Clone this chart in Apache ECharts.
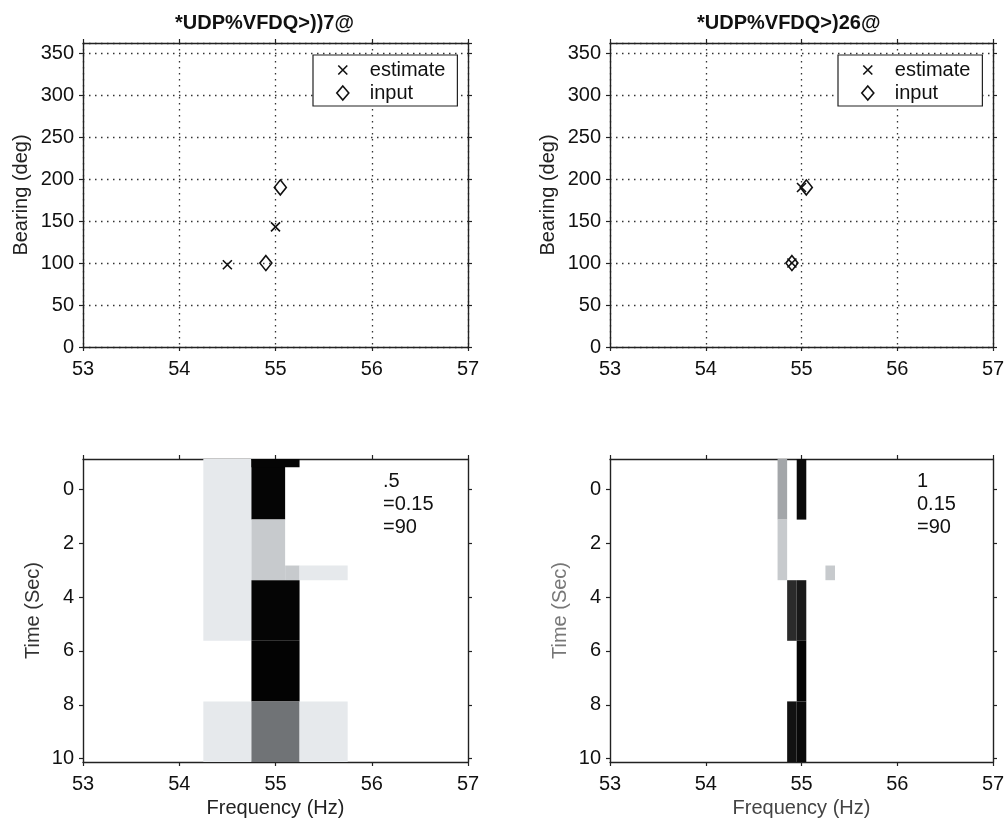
<!DOCTYPE html>
<html>
<head>
<meta charset="utf-8">
<script src="https://cdn.jsdelivr.net/npm/echarts@6/dist/echarts.min.js"></script>
<style>
html,body{margin:0;padding:0;background:#fff;}
#chart{width:1008px;height:819px;}
</style>
</head>
<body>
<div id="chart"></div>
<script>
// ---- data ----
const titles = ['*UDP%VFDQ>))7@', '*UDP%VFDQ>)26@'];
const freqTicks = [53, 54, 55, 56, 57];
const bearingTicks = [0, 50, 100, 150, 200, 250, 300, 350];
const timeTicks = [0, 2, 4, 6, 8, 10];

// top-left scatter
const estFreqL = [54.5, 55.0];
const estBearL = [98, 143];
const inFreqL = [54.9, 55.05];
const inBearL = [100, 190];
// top-right scatter
const estFreqR = [55.0, 54.9];
const estBearR = [190, 100];
const inFreqR = [55.05, 54.9];
const inBearR = [190, 100];

// bottom-left image cells (freq lo/hi, time lo/hi, intensity 0..1)
const cellFLoL = [54.25, 54.25, 54.75, 54.75, 54.75, 55.1, 55.25, 54.75, 54.75, 54.75, 55.25];
const cellFHiL = [54.75, 54.75, 55.1, 55.25, 55.1, 55.25, 55.75, 55.25, 55.25, 55.25, 55.75];
const cellTLoL = [-1.125, 7.875, -1.125, -1.125, 1.125, 2.83, 2.83, 3.375, 5.625, 7.875, 7.875];
const cellTHiL = [5.625, 10.125, 1.125, -0.82, 3.375, 3.375, 3.375, 5.625, 7.875, 10.125, 10.125];
const cellValL = [0.10, 0.10, 0.98, 0.98, 0.22, 0.22, 0.10, 0.98, 0.99, 0.56, 0.10];

// bottom-right image cells
const cellFLoR = [54.75, 54.75, 54.95, 55.25, 54.85, 54.95, 54.95, 54.85, 54.95];
const cellFHiR = [54.85, 54.85, 55.05, 55.35, 54.95, 55.05, 55.05, 54.95, 55.05];
const cellTLoR = [-1.125, 1.125, -1.125, 2.83, 3.375, 3.375, 5.625, 7.875, 7.875];
const cellTHiR = [1.125, 3.375, 1.125, 3.375, 5.625, 5.625, 7.875, 10.125, 10.125];
const cellValR = [0.36, 0.22, 0.96, 0.22, 0.83, 0.90, 0.98, 0.93, 0.96];

const noteL = ['.5', '=0.15', '=90'];
const noteR = ['1', '0.15', '=90'];

// ---- styling / build ----
const FONT = 'Liberation Sans';
const INK = '#111';
const grids = [
  {left: 83, top: 43, width: 385, height: 304},
  {left: 610, top: 43, width: 383, height: 304},
  {left: 83, top: 459, width: 385, height: 303},
  {left: 610, top: 459, width: 383, height: 303}
];

function grayOf(v) {
  const g = Math.round(255 * (1 - v));
  const t = g > 60 ? 1 : 0;
  return 'rgb(' + g + ',' + Math.min(255, g + 3 * t) + ',' + Math.min(255, g + 6 * t) + ')';
}
function zipCells(a, b, c, d, e) {
  return a.map((v, i) => [a[i], b[i], c[i], d[i], e[i]]);
}
function zipPts(a, b) { return a.map((v, i) => [a[i], b[i]]); }

const axisLine = {show: true, onZero: false, lineStyle: {color: '#222', width: 1.4}};
const tick = {show: true, inside: false, length: 4, lineStyle: {color: '#222', width: 1.2}};
const dotted = {show: true, lineStyle: {color: '#333', width: 1.3, type: [1.5, 4.5]}};
const lbl = {fontSize: 20, color: INK, fontFamily: FONT};

const xAxes = [], yAxes = [];
grids.forEach((g, i) => {
  const isTop = i < 2;
  xAxes.push({
    gridIndex: i, type: 'value', min: 53, max: 57, interval: 1, position: 'bottom',
    axisLine, axisTick: tick,
    axisLabel: Object.assign({margin: 12, formatter: v => freqTicks.includes(v) ? String(v) : ''}, lbl),
    splitLine: isTop ? dotted : {show: false},
    name: isTop ? '' : 'Frequency (Hz)', nameLocation: 'middle', nameGap: 36,
    nameTextStyle: {fontSize: 20, color: i === 3 ? '#444' : '#222', fontFamily: FONT}
  });
  xAxes.push({
    gridIndex: i, type: 'value', min: 53, max: 57, interval: 1, position: 'top',
    axisLine, axisTick: tick, axisLabel: {show: false}, splitLine: {show: false}
  });
  if (isTop) {
    yAxes.push({
      gridIndex: i, type: 'value', min: 0, max: 362, interval: 50, position: 'left',
      axisLine, axisTick: tick,
      axisLabel: Object.assign({margin: 9, showMaxLabel: false,
        formatter: v => bearingTicks.includes(v) ? String(v) : ''}, lbl),
      splitLine: dotted,
      name: 'Bearing (deg)', nameLocation: 'middle', nameGap: 52,
      nameTextStyle: {fontSize: 20, color: '#222', fontFamily: FONT}
    });
    yAxes.push({
      gridIndex: i, type: 'value', min: 0, max: 362, interval: 50, position: 'right',
      axisLine, axisTick: tick, axisLabel: {show: false}, splitLine: {show: false}
    });
  } else {
    yAxes.push({
      gridIndex: i, type: 'value', min: -1.125, max: 10.125, inverse: true, position: 'left',
      axisLine, axisTick: Object.assign({customValues: timeTicks}, tick),
      axisLabel: Object.assign({margin: 9, customValues: timeTicks}, lbl),
      splitLine: {show: false},
      name: 'Time (Sec)', nameLocation: 'middle', nameGap: 40,
      nameTextStyle: {fontSize: 20, color: i === 3 ? '#777' : '#333', fontFamily: FONT}
    });
    yAxes.push({
      gridIndex: i, type: 'value', min: -1.125, max: 10.125, inverse: true, position: 'right',
      axisLine, axisTick: Object.assign({customValues: timeTicks}, tick),
      axisLabel: {show: false}, splitLine: {show: false}
    });
  }
});

const crossSym = 'path://M0,0L10,10M10,0L0,10';
const diamondSym = 'path://M6,0L12,7L6,14L0,7Z';
const crossIcon = 'path://M0,0L0,0M2.5,2.5L11.5,11.5M11.5,2.5L2.5,11.5M14,14L14,14';

function estSeries(xi, yi, data) {
  return {
    name: 'estimate', type: 'scatter', xAxisIndex: xi, yAxisIndex: yi, data,
    symbol: crossSym, symbolSize: 9, z: 5,
    itemStyle: {color: 'transparent', borderColor: INK, borderWidth: 1.6, opacity: 1},
    emphasis: {disabled: true}
  };
}
function inSeries(xi, yi, data) {
  return {
    name: 'input', type: 'scatter', xAxisIndex: xi, yAxisIndex: yi, data,
    symbol: diamondSym, symbolSize: [12, 15], symbolKeepAspect: false, z: 5,
    itemStyle: {color: 'transparent', borderColor: INK, borderWidth: 1.6, opacity: 1},
    emphasis: {disabled: true}
  };
}
function cellSeries(xi, yi, data) {
  return {
    type: 'custom', xAxisIndex: xi, yAxisIndex: yi, data, z: 1, silent: true,
    renderItem: (params, api) => {
      const p0 = api.coord([api.value(0), api.value(2)]);
      const p1 = api.coord([api.value(1), api.value(3)]);
      return {
        type: 'rect',
        shape: {x: Math.min(p0[0], p1[0]), y: Math.min(p0[1], p1[1]),
                width: Math.abs(p1[0] - p0[0]), height: Math.abs(p1[1] - p0[1])},
        style: {fill: grayOf(api.value(4))}
      };
    },
    encode: {x: [0, 1], y: [2, 3]}
  };
}

function legendFor(left) {
  return {
    left, top: 55, orient: 'vertical', itemWidth: 44, itemHeight: 14, itemGap: 3,
    padding: [5, 12, 3, 22], borderColor: '#222', borderWidth: 1.2, backgroundColor: '#fff',
    selectedMode: false, symbolKeepAspect: true, z: 10,
    textStyle: {fontSize: 20, color: INK, fontFamily: FONT},
    itemStyle: {color: 'transparent', borderColor: INK, borderWidth: 1.6},
    data: [{name: 'estimate', icon: crossIcon}, {name: 'input', icon: diamondSym}]
  };
}

const option = {
  animation: false,
  backgroundColor: '#fff',
  textStyle: {fontFamily: FONT},
  title: [
    {text: titles[0], left: 175, top: 13, padding: 0,
     textStyle: {fontSize: 20, fontWeight: 'bold', color: '#111', fontFamily: FONT}},
    {text: titles[1], left: 697, top: 13, padding: 0,
     textStyle: {fontSize: 20, fontWeight: 'bold', color: '#111', fontFamily: FONT}}
  ],
  grid: grids.map(g => Object.assign({containLabel: false}, g)),
  xAxis: xAxes,
  yAxis: yAxes,
  legend: [legendFor(313), legendFor(838)],
  series: [
    estSeries(0, 0, zipPts(estFreqL, estBearL)),
    inSeries(0, 0, zipPts(inFreqL, inBearL)),
    estSeries(2, 2, zipPts(estFreqR, estBearR)),
    inSeries(2, 2, zipPts(inFreqR, inBearR)),
    cellSeries(4, 4, zipCells(cellFLoL, cellFHiL, cellTLoL, cellTHiL, cellValL)),
    cellSeries(6, 6, zipCells(cellFLoR, cellFHiR, cellTLoR, cellTHiR, cellValR))
  ],
  graphic: [
    {type: 'text', left: 383, top: 470, z: 20,
     style: {text: noteL.join('\n'), font: '20px "Liberation Sans"', fill: INK, lineHeight: 23}},
    {type: 'text', left: 917, top: 470, z: 20,
     style: {text: noteR.join('\n'), font: '20px "Liberation Sans"', fill: INK, lineHeight: 23}}
  ]
};

const chart = echarts.init(document.getElementById('chart'), null, {renderer: 'canvas'});
chart.setOption(option);
</script>
</body>
</html>
